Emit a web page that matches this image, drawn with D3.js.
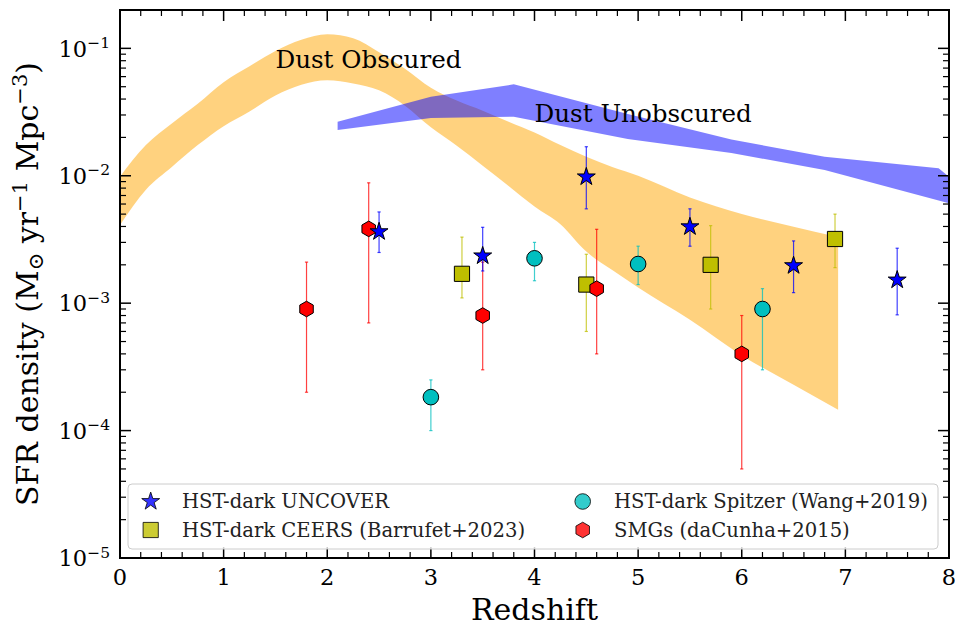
<!DOCTYPE html>
<html>
<head>
<meta charset="utf-8">
<script src="https://cdn.jsdelivr.net/npm/d3@7"></script>
<style>
  html, body { margin: 0; padding: 0; background: #fff; }
  svg { display: block; font-family: "DejaVu Serif", serif; }
</style>
</head>
<body>
<svg id="chart" width="955" height="626"></svg>
<script>
// ---- Data ---------------------------------------------------------------
// HST-dark UNCOVER
const uncoverZ   = [2.5, 3.5, 4.5, 5.5, 6.5, 7.5];
const uncoverSFR = [3.64e-3, 2.35e-3, 9.8e-3, 3.98e-3, 1.97e-3, 1.52e-3];
const uncoverLo  = [2.5e-3, 1.79e-3, 5.5e-3, 2.8e-3, 1.21e-3, 8.1e-4];
const uncoverHi  = [5.2e-3, 3.94e-3, 1.69e-2, 5.5e-3, 3.08e-3, 2.7e-3];

// HST-dark CEERS (Barrufet+2023)
const ceersZ   = [3.3, 4.5, 5.7, 6.9];
const ceersSFR = [1.7e-3, 1.4e-3, 2.0e-3, 3.19e-3];
const ceersLo  = [1.1e-3, 6.0e-4, 9.0e-4, 1.9e-3];
const ceersHi  = [3.3e-3, 2.42e-3, 4.06e-3, 5.0e-3];

// HST-dark Spitzer (Wang+2019)
const spitzerZ   = [3.0, 4.0, 5.0, 6.2];
const spitzerSFR = [1.83e-4, 2.25e-3, 2.03e-3, 9.0e-4];
const spitzerLo  = [1.0e-4, 1.5e-3, 1.4e-3, 3.0e-4];
const spitzerHi  = [2.5e-4, 3.0e-3, 2.8e-3, 1.3e-3];

// SMGs (daCunha+2015)
const smgZ   = [1.8, 2.4, 3.5, 4.6, 6.0];
const smgSFR = [9.0e-4, 3.83e-3, 8.0e-4, 1.3e-3, 4.0e-4];
const smgLo  = [2.0e-4, 7.0e-4, 3.0e-4, 4.0e-4, 5.0e-5];
const smgHi  = [2.1e-3, 8.8e-3, 2.1e-3, 3.8e-3, 8.0e-4];

// Dust-obscured SFRD band
const obscuredZ  = [0, 0.25, 0.5, 0.75, 1.0, 1.25, 1.5, 1.75, 2.0, 2.25, 2.5, 2.75, 3.0,
                    3.25, 3.5, 3.75, 4.0, 4.25, 4.5, 4.75, 5.0, 5.5, 6.0, 6.5, 6.93];
const obscuredHi = [0.00984, 0.0174, 0.0257, 0.0367, 0.0543, 0.0724, 0.0955, 0.117, 0.129,
                    0.120, 0.0933, 0.0692, 0.0490, 0.0389, 0.0324, 0.0266, 0.0219, 0.0174,
                    0.0141, 0.0117, 0.0100, 0.00676, 0.00501, 0.00398, 0.00331];
const obscuredLo = [0.00411, 0.00776, 0.0117, 0.0174, 0.0245, 0.0320, 0.0427, 0.0519, 0.0562,
                    0.0531, 0.0468, 0.0355, 0.0240, 0.0172, 0.0120, 0.00832, 0.00575, 0.00417,
                    0.00254, 0.00182, 0.00133, 0.000741, 0.000389, 0.000229, 0.000146];

// Dust-unobscured (UV) SFRD band
const unobscuredZ  = [2.1, 3.0, 3.8, 4.9, 5.9, 6.8, 7.9, 8.0];
const unobscuredHi = [0.02656, 0.04173, 0.05219, 0.03053, 0.01926, 0.01412, 0.01145, 0.00984];
const unobscuredLo = [0.02286, 0.02840, 0.02907, 0.01943, 0.01510, 0.01110, 0.00640, 0.00608];

// Axis ticks
const xTicks = [0, 1, 2, 3, 4, 5, 6, 7, 8];
const yTickExp = [-5, -4, -3, -2, -1];

// ---- Layout -------------------------------------------------------------
const svg = d3.select("#chart");
const plot = { left: 120, right: 949, top: 10, bottom: 558 };

const x = d3.scaleLinear().domain([0, 8]).range([plot.left, plot.right]);
const y = d3.scaleLog().domain([1e-5, 0.2]).range([plot.bottom, plot.top]);

svg.append("defs").append("clipPath").attr("id", "plotClip")
  .append("rect")
  .attr("x", plot.left).attr("y", plot.top)
  .attr("width", plot.right - plot.left).attr("height", plot.bottom - plot.top);

const g = svg.append("g").attr("clip-path", "url(#plotClip)");

// ---- Bands --------------------------------------------------------------
const smoothArea = d3.area()
  .x(d => x(d.z))
  .y0(d => y(d.lo))
  .y1(d => y(d.hi))
  .curve(d3.curveMonotoneX);
const linearArea = d3.area()
  .x(d => x(d.z))
  .y0(d => y(d.lo))
  .y1(d => y(d.hi));

const obscured = obscuredZ.map((z, i) => ({ z, lo: obscuredLo[i], hi: obscuredHi[i] }));
const unobscured = unobscuredZ.map((z, i) => ({ z, lo: unobscuredLo[i], hi: unobscuredHi[i] }));

g.append("path").datum(obscured).attr("d", smoothArea)
  .attr("fill", "orange").attr("fill-opacity", 0.5);
g.append("path").datum(unobscured).attr("d", linearArea)
  .attr("fill", "blue").attr("fill-opacity", 0.5);

// ---- Markers ------------------------------------------------------------
function hexPath(R) {
  const pts = d3.range(6).map(i => {
    const a = (-90 + 60 * i) * Math.PI / 180;
    return [R * Math.cos(a), R * Math.sin(a)];
  });
  return "M" + pts.map(p => p.join(",")).join("L") + "Z";
}
const markerPath = {
  star: d3.symbol(d3.symbolStar, 100)(),
  square: "M-7.6,-7.6H7.6V7.6H-7.6Z",
  circle: d3.symbol(d3.symbolCircle, Math.PI * 7.8 * 7.8)(),
  hex: hexPath(7.8)
};

const series = [
  { name: "HST-dark Spitzer (Wang+2019)", z: spitzerZ, v: spitzerSFR, lo: spitzerLo, hi: spitzerHi, color: "#00bfbf", marker: "circle" },
  { name: "HST-dark CEERS (Barrufet+2023)", z: ceersZ, v: ceersSFR, lo: ceersLo, hi: ceersHi, color: "#bfbf00", marker: "square" },
  { name: "SMGs (daCunha+2015)", z: smgZ, v: smgSFR, lo: smgLo, hi: smgHi, color: "#ff0000", marker: "hex" },
  { name: "HST-dark UNCOVER", z: uncoverZ, v: uncoverSFR, lo: uncoverLo, hi: uncoverHi, color: "#0000ff", marker: "star" }
];

series.forEach(s => {
  const pts = s.z.map((z, i) => ({ z, v: s.v[i], lo: s.lo[i], hi: s.hi[i] }));
  const eb = g.append("g").attr("stroke", s.color).attr("stroke-opacity", 0.75).attr("stroke-width", 1.2);
  pts.forEach(p => {
    const cx = x(p.z);
    eb.append("line").attr("x1", cx).attr("x2", cx).attr("y1", y(p.lo)).attr("y2", y(p.hi));
    [p.lo, p.hi].forEach(v => {
      eb.append("line").attr("x1", cx - 1.6).attr("x2", cx + 1.6).attr("y1", y(v)).attr("y2", y(v));
    });
  });
  g.append("g").selectAll("path").data(pts).join("path")
    .attr("d", markerPath[s.marker])
    .attr("transform", p => `translate(${x(p.z)},${y(p.v)})`)
    .attr("fill", s.color).attr("stroke", "#000").attr("stroke-width", 1);
});

// ---- Band labels --------------------------------------------------------
svg.append("text").attr("x", x(1.5)).attr("y", y(0.07))
  .attr("font-size", 24.6).attr("fill", "#000").text("Dust Obscured");
svg.append("text").attr("x", x(4.0)).attr("y", y(0.0265))
  .attr("font-size", 24.6).attr("fill", "#000").text("Dust Unobscured");

// ---- Axes ---------------------------------------------------------------
const axes = svg.append("g").attr("stroke", "#000");
const majorLen = 11, minorLen = 6;

// x ticks (bottom and top, pointing inward)
const xMinor = d3.range(0, 8.0001, 0.2).filter(v => Math.abs(v - Math.round(v)) > 1e-6);
xTicks.forEach(v => {
  const px = x(v);
  axes.append("line").attr("x1", px).attr("x2", px).attr("y1", plot.bottom).attr("y2", plot.bottom - majorLen).attr("stroke-width", 1.5);
  axes.append("line").attr("x1", px).attr("x2", px).attr("y1", plot.top).attr("y2", plot.top + majorLen).attr("stroke-width", 1.5);
});
xMinor.forEach(v => {
  const px = x(v);
  axes.append("line").attr("x1", px).attr("x2", px).attr("y1", plot.bottom).attr("y2", plot.bottom - minorLen).attr("stroke-width", 1.2);
  axes.append("line").attr("x1", px).attr("x2", px).attr("y1", plot.top).attr("y2", plot.top + minorLen).attr("stroke-width", 1.2);
});

// y ticks (left and right, pointing inward)
yTickExp.forEach(e => {
  const py = y(Math.pow(10, e));
  axes.append("line").attr("x1", plot.left).attr("x2", plot.left + majorLen).attr("y1", py).attr("y2", py).attr("stroke-width", 1.5);
  axes.append("line").attr("x1", plot.right).attr("x2", plot.right - majorLen).attr("y1", py).attr("y2", py).attr("stroke-width", 1.5);
});
const yMinor = [];
for (let e = -5; e <= -1; e++) for (let k = 2; k <= 9; k++) {
  const v = k * Math.pow(10, e);
  if (v < 0.2) yMinor.push(v);
}
yMinor.forEach(v => {
  const py = y(v);
  axes.append("line").attr("x1", plot.left).attr("x2", plot.left + minorLen).attr("y1", py).attr("y2", py).attr("stroke-width", 1.2);
  axes.append("line").attr("x1", plot.right).attr("x2", plot.right - minorLen).attr("y1", py).attr("y2", py).attr("stroke-width", 1.2);
});

// frame
svg.append("rect")
  .attr("x", plot.left).attr("y", plot.top)
  .attr("width", plot.right - plot.left).attr("height", plot.bottom - plot.top)
  .attr("fill", "none").attr("stroke", "#000").attr("stroke-width", 2);

// tick labels
svg.append("g").selectAll("text").data(xTicks).join("text")
  .attr("x", d => x(d)).attr("y", 585)
  .attr("text-anchor", "middle").attr("font-size", 22.5).attr("fill", "#000")
  .text(d => d);

const yLab = svg.append("g").attr("font-size", 22.5).attr("fill", "#000");
yTickExp.forEach(e => {
  const t = yLab.append("text")
    .attr("x", 110).attr("y", y(Math.pow(10, e)) + 8.3)
    .attr("text-anchor", "end");
  t.append("tspan").text("10");
  t.append("tspan").attr("dy", -8.7).attr("font-size", 15.5).text("\u2212" + Math.abs(e));
});

// axis titles
svg.append("text")
  .attr("x", (plot.left + plot.right) / 2).attr("y", 620)
  .attr("text-anchor", "middle").attr("font-size", 30).attr("fill", "#000")
  .text("Redshift");

const yTitle = svg.append("text")
  .attr("transform", "translate(38,284) rotate(-90)")
  .attr("text-anchor", "middle").attr("font-size", 30).attr("fill", "#000");
yTitle.append("tspan").text("SFR density (M");
yTitle.append("tspan").attr("font-size", 21).attr("dy", 5).text("\u2299");
yTitle.append("tspan").attr("dy", -5).text(" yr");
yTitle.append("tspan").attr("font-size", 21).attr("dy", -11).text("\u22121");
yTitle.append("tspan").attr("dy", 11).text(" Mpc");
yTitle.append("tspan").attr("font-size", 21).attr("dy", -11).text("\u22123");
yTitle.append("tspan").attr("dy", 11).text(")");

// ---- Legend -------------------------------------------------------------
const legend = svg.append("g");
legend.append("rect")
  .attr("x", 128).attr("y", 484).attr("width", 810).attr("height", 65)
  .attr("rx", 4).attr("fill", "#fff").attr("fill-opacity", 0.8)
  .attr("stroke", "#cccccc").attr("stroke-width", 1);

const legendItems = [
  { s: series[3], mx: 150.7, tx: 182, cy: 501.5 },
  { s: series[1], mx: 150.7, tx: 182, cy: 530 },
  { s: series[0], mx: 582.7, tx: 614, cy: 501.5 },
  { s: series[2], mx: 582.7, tx: 614, cy: 530 }
];
legendItems.forEach(it => {
  legend.append("path")
    .attr("d", markerPath[it.s.marker])
    .attr("transform", `translate(${it.mx},${it.cy})`)
    .attr("fill", it.s.color).attr("fill-opacity", 0.8)
    .attr("stroke", "#000").attr("stroke-opacity", 0.8).attr("stroke-width", 1);
  legend.append("text")
    .attr("x", it.tx).attr("y", it.cy + 6.8)
    .attr("font-size", 19.6).attr("fill", "#222")
    .text(it.s.name);
});
</script>
</body>
</html>
